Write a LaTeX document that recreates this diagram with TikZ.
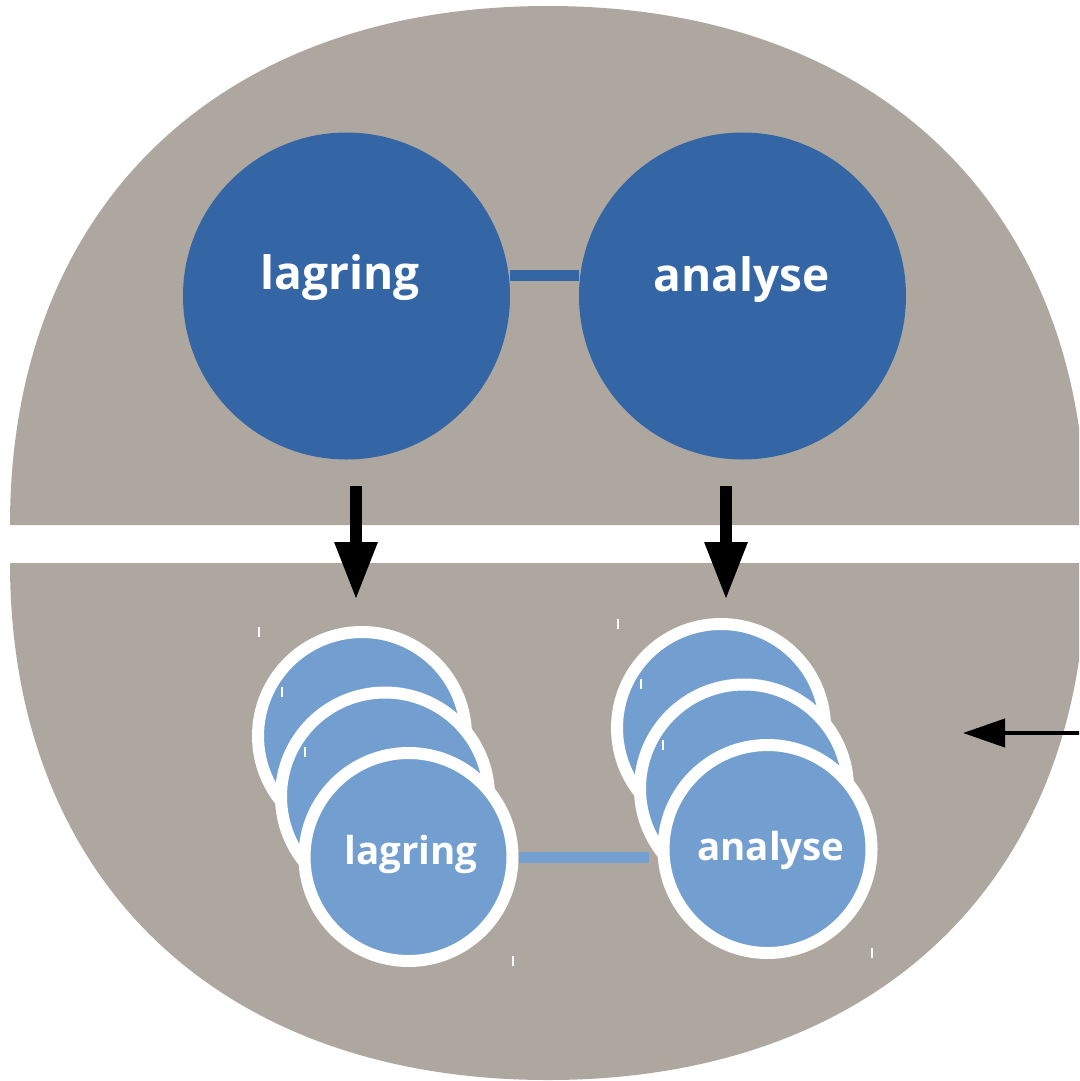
\documentclass[tikz,border=0pt]{standalone}
\usepackage{fontspec}
\setmainfont{Open Sans}
\usetikzlibrary{arrows.meta}
\definecolor{stone}{RGB}{173,167,160}
\definecolor{deepblue}{RGB}{52,101,164}
\definecolor{skyblue}{RGB}{114,159,207}
\begin{document}
\begin{tikzpicture}[x=1pt,y=-1pt,
  bigdisc/.style={circle,fill=deepblue,minimum size=327pt,inner sep=0pt},
  smalldisc/.style={circle,fill=skyblue,draw=white,line width=12pt,minimum size=208pt,inner sep=0pt},
  bigtext/.style={text=white,font=\bfseries\fontsize{46}{46}\selectfont,inner sep=0pt},
  smalltext/.style={text=white,font=\bfseries\fontsize{38.5}{38.5}\selectfont,inner sep=0pt},
  darklink/.style={draw=deepblue,line width=11pt},
  lightlink/.style={draw=skyblue,line width=11pt},
  downarrow/.style={draw=black,line width=12pt,-{Triangle[length=58pt,width=40pt]}},
  sidearrow/.style={draw=black,line width=4pt,-{Triangle[length=42pt,width=28pt]}},
  tick/.style={draw=white,line width=1.5pt}]
\clip (0,0) rectangle (1079,1081);
\fill[white] (0,0) rectangle (1079,1081);

% two grey rounded halves separated by a white band
\fill[stone] (10,525) .. controls (10,207.4) and (218.7,6) .. (548,6)
  .. controls (877.3,6) and (1086,207.4) .. (1086,525) -- cycle;
\fill[stone] (10,563) .. controls (10,879.4) and (218.7,1080) .. (548,1080)
  .. controls (877.3,1080) and (1086,879.4) .. (1086,563) -- cycle;

% upper pair
\node[bigdisc] (lag) at (346.5,296) {};
\node[bigdisc] (ana) at (742.5,296) {};
\draw[darklink] ([yshift=21pt]lag.east) -- ([yshift=21pt]ana.west);
\node[bigtext] (lagtxt) at (340,278) {lagring};
\node[bigtext] (anatxt) at (742,280) {analyse};

% lower stacks
\node[smalldisc] (lagA) at (362,736) {};
\node[smalldisc] (lagB) at (385,796.5) {};
\node[smalldisc] (lagC) at (408.5,857) {};
\node[smalldisc] (anaA) at (721,728) {};
\node[smalldisc] (anaB) at (744,788.5) {};
\node[smalldisc] (anaC) at (767.5,849) {};
\draw[lightlink,shorten >=8.5pt] (lagC.east) -- (lagC.east -| anaC.west);
\node[smalltext] (lagCtxt) at (411,854) {lagring};
\node[smalltext] (anaCtxt) at (771,850) {analyse};

% arrows between the levels
\draw[downarrow,shorten <=26.5pt,shorten >=26pt] ([xshift=9.5pt]lag.south) -- ([xshift=9.5pt]lag.south |- lagA.north);
\draw[downarrow,shorten <=26.5pt,shorten >=18pt] ([xshift=-16.5pt]ana.south) -- ([xshift=-16.5pt]ana.south |- anaA.north);

% incoming arrow from the right
\coordinate (feed) at (1090,733);
\coordinate (feedtip) at (963,733);
\draw[sidearrow] (feed) -- (feedtip);

% small marks
\draw[tick] (259,627) -- (259,637);
\draw[tick] (282,687) -- (282,697);
\draw[tick] (305,747) -- (305,757);
\draw[tick] (513,956) -- (513,966);
\draw[tick] (618,619) -- (618,629);
\draw[tick] (641,679) -- (641,689);
\draw[tick] (663,740) -- (663,750);
\draw[tick] (872,948) -- (872,958);
\end{tikzpicture}
\end{document}
